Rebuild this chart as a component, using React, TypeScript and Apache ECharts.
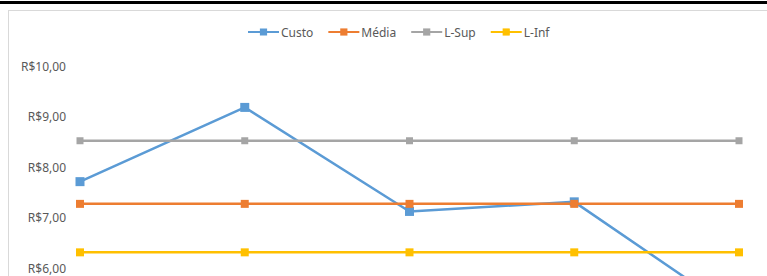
import React, { useEffect, useRef } from "react";
import * as echarts from "echarts";

const categories = ["1", "2", "3", "4", "5"];
const custo = [7.71, 9.18, 7.12, 7.31, 5.08];
const media = [7.27, 7.27, 7.27, 7.27, 7.27];
const lSup = [8.52, 8.52, 8.52, 8.52, 8.52];
const lInf = [6.31, 6.31, 6.31, 6.31, 6.31];
const seriesNames = ["Custo", "Média", "L-Sup", "L-Inf"];
const colors = ["#5B9BD5", "#ED7D31", "#A5A5A5", "#FFC000"];

export default function App() {
  const ref = useRef<HTMLDivElement>(null);
  useEffect(() => {
    if (!ref.current) return;
    const chart = echarts.init(ref.current, null, { renderer: "svg" });
    const data = [custo, media, lSup, lInf];
    chart.setOption({
      animation: false,
      color: colors,
      legend: {
        top: 26,
        left: 247,
        padding: 0,
        itemWidth: 31,
        itemHeight: 9,
        itemGap: 14,
        textStyle: { color: "#595959", fontSize: 12, fontFamily: "Noto Sans", padding: [0, 0, 0, -3] },
        data: seriesNames,
      },
      grid: { left: 80, right: 28, top: 66, bottom: 31 },
      xAxis: {
        type: "category",
        data: categories,
        boundaryGap: false,
        axisLine: { show: false },
        axisTick: { show: false },
        axisLabel: { show: false },
      },
      yAxis: {
        type: "value",
        min: 4,
        max: 10,
        interval: 1,
        splitLine: { show: false },
        axisLine: { show: false },
        axisTick: { show: false },
        axisLabel: {
          margin: 14,
          color: "#595959",
          fontSize: 12,
          fontFamily: "Noto Sans",
          formatter: (v: number) => "R$" + v.toFixed(2).replace(".", ","),
        },
      },
      series: seriesNames.map((name, i) => ({
        name,
        type: "line",
        data: data[i],
        symbol: "rect",
        symbolSize: i === 0 ? 9 : i === 2 ? 7 : 8,
        lineStyle: { width: 2.5, color: colors[i] },
        itemStyle: { color: colors[i] },
        z: i === 0 ? 2 : 3,
      })),
    });
    return () => chart.dispose();
  }, []);
  return (
    <div
      style={{
        position: "fixed",
        left: 0,
        top: 0,
        width: 767,
        height: 276,
        overflow: "hidden",
        background: "#fff",
      }}
    >
      <div
        style={{
          position: "absolute",
          left: 0,
          top: 1,
          width: 767,
          height: 3,
          background: "#000",
        }}
      />
      <div
        style={{
          position: "absolute",
          left: 8,
          top: 10,
          width: 900,
          height: 500,
          border: "1px solid #d9d9d9",
        }}
      />
      <div
        ref={ref}
        style={{ position: "absolute", left: 0, top: 0, width: 767, height: 400 }}
      />
    </div>
  );
}
